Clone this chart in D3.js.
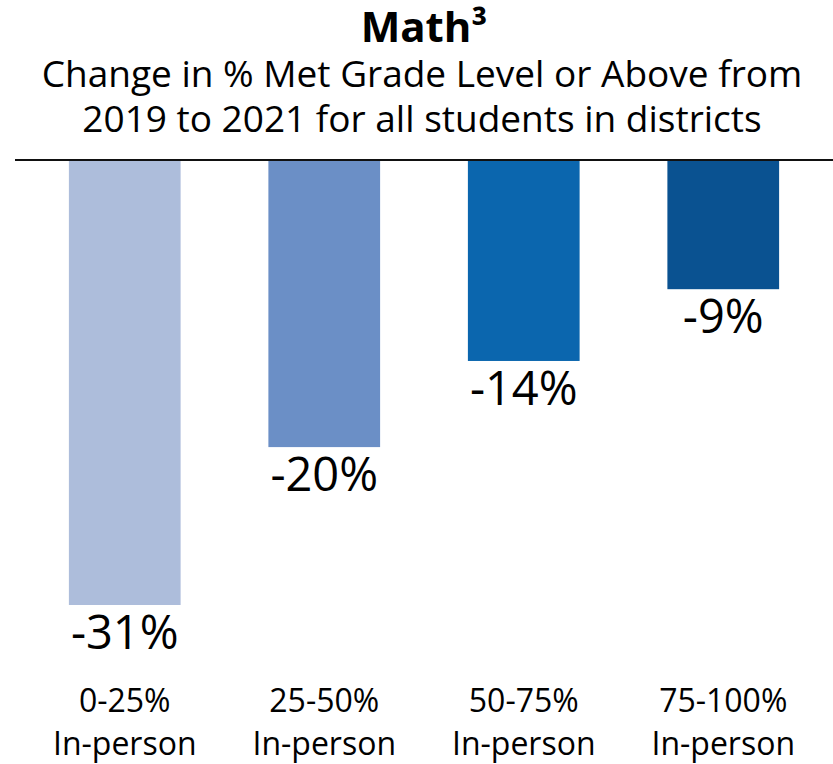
<!DOCTYPE html>
<html>
<head>
<meta charset="utf-8">
<title>Math</title>
<script src="https://d3js.org/d3.v7.min.js"></script>
<style>
  body { margin: 0; background: #fff; font-family: "Open Sans", "Noto Sans", sans-serif; }
  svg { display: block; }
</style>
</head>
<body>
<script>
// data
var categories = ["0-25%", "25-50%", "50-75%", "75-100%"];
var subLabels  = ["In-person", "In-person", "In-person", "In-person"];
var values     = [-31, -20, -14, -9];
var colors     = ["#adbddb", "#6b8fc6", "#0b66ae", "#0a5291"];

var width = 833, height = 764;
var svg = d3.select("body").append("svg").attr("width", width).attr("height", height);

// title
svg.append("text").attr("x", 424).attr("y", 42)
  .attr("text-anchor", "middle").style("font-size", "42px").style("font-weight", "bold")
  .text("Math³");

svg.append("text").attr("x", 422).attr("y", 87).attr("text-anchor", "middle")
  .style("font-size", "37px").text("Change in % Met Grade Level or Above from");
svg.append("text").attr("x", 422).attr("y", 132).attr("text-anchor", "middle")
  .style("font-size", "37px").text("2019 to 2021 for all students in districts");

// scales
var x = d3.scaleBand().domain(categories).range([25, 823]).paddingInner(0.44).paddingOuter(0.22);
var y = d3.scaleLinear().domain([0, -31]).range([160, 605]);

svg.append("g").selectAll("rect")
  .data(values)
  .enter()
  .append("rect")
  .attr("x", function(d, i){ return x(categories[i]); })
  .attr("y", y(0))
  .attr("width", x.bandwidth())
  .attr("height", function(d){ return y(d) - y(0); })
  .style("fill", function(d, i){ return colors[i]; });

// baseline
svg.append("line").attr("x1", 15).attr("x2", 833).attr("y1", y(0)).attr("y2", y(0))
  .style("stroke", "#111").style("stroke-width", 2);

// value labels
svg.append("g").selectAll("text")
  .data(values)
  .enter()
  .append("text")
  .attr("x", function(d, i){ return x(categories[i]) + x.bandwidth() / 2; })
  .attr("y", function(d){ return y(d) + 44; })
  .attr("text-anchor", "middle")
  .style("font-size", "47px")
  .text(function(d){ return d + "%"; });

// category labels
var cat = svg.append("g").selectAll("text")
  .data(categories)
  .enter()
  .append("text")
  .attr("text-anchor", "middle")
  .style("font-size", "32px");
cat.append("tspan")
  .attr("x", function(d){ return x(d) + x.bandwidth() / 2; })
  .attr("y", 712)
  .text(function(d){ return d; });
cat.append("tspan")
  .attr("x", function(d){ return x(d) + x.bandwidth() / 2; })
  .attr("y", 755)
  .text(function(d, i){ return subLabels[i]; });
</script>
</body>
</html>
